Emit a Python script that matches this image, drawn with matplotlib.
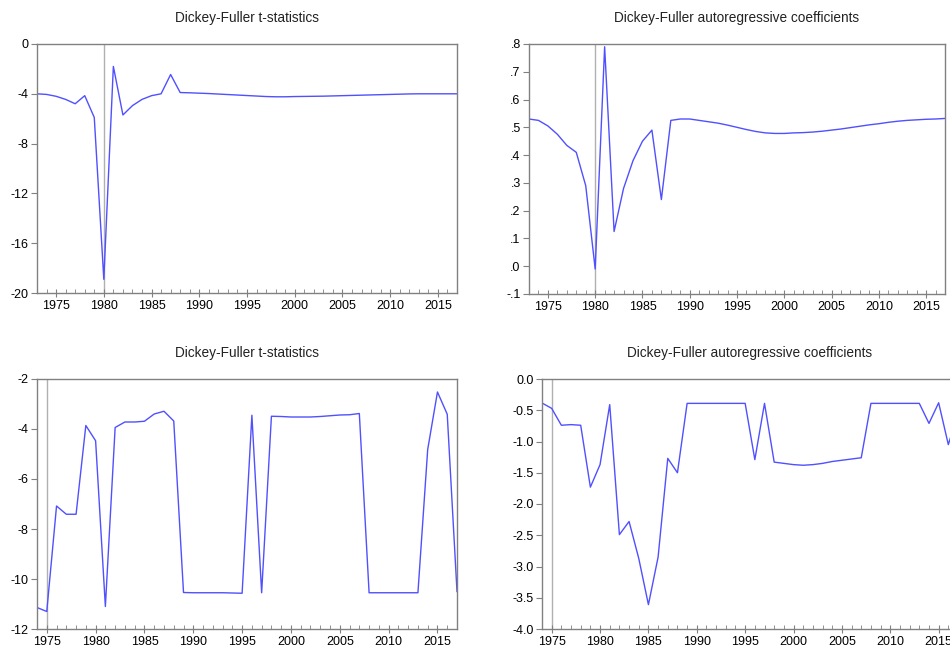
import numpy as np
import matplotlib
matplotlib.use('Agg')
import matplotlib.pyplot as plt
from matplotlib.ticker import MultipleLocator, FuncFormatter

plt.rcParams['font.family'] = ['Liberation Sans', 'DejaVu Sans']

# top row: 1973-2017
years_top = list(range(1973, 2018))
tstat_top = [-4.0, -4.05, -4.2, -4.45, -4.8, -4.15, -5.9, -18.9, -1.8, -5.7,
             -4.95, -4.45, -4.15, -4.0, -2.45, -3.9, -3.92, -3.95, -3.98, -4.02,
             -4.06, -4.1, -4.14, -4.18, -4.22, -4.24, -4.24, -4.22, -4.21, -4.2,
             -4.19, -4.17, -4.15, -4.13, -4.11, -4.09, -4.07, -4.05, -4.03, -4.01,
             -4.0, -4.0, -4.0, -4.0, -4.0]
coef_top = [0.53, 0.525, 0.505, 0.475, 0.435, 0.41, 0.29, -0.01, 0.79, 0.125,
            0.28, 0.38, 0.45, 0.49, 0.24, 0.525, 0.53, 0.53, 0.525, 0.52,
            0.515, 0.508, 0.5, 0.492, 0.485, 0.48, 0.478, 0.478, 0.48, 0.481,
            0.483, 0.486, 0.49, 0.494, 0.499, 0.504, 0.509, 0.513, 0.518, 0.522,
            0.525, 0.527, 0.529, 0.53, 0.532]

# bottom row: 1974-2017
years_bot = list(range(1974, 2018))
tstat_bot = [-11.14, -11.3, -7.08, -7.41, -7.41, -3.86, -4.47, -11.1, -3.94, -3.72,
             -3.72, -3.69, -3.4, -3.29, -3.68, -10.54, -10.55, -10.55, -10.55, -10.55,
             -10.56, -10.57, -3.45, -10.55, -3.49, -3.5, -3.52, -3.52, -3.52, -3.5,
             -3.47, -3.44, -3.43, -3.38, -10.55, -10.55, -10.55, -10.55, -10.55, -10.55,
             -4.82, -2.52, -3.41, -10.5]
coef_bot = [-0.384, -0.47, -0.74, -0.73, -0.74, -1.73, -1.37, -0.41, -2.49, -2.28,
            -2.87, -3.61, -2.85, -1.27, -1.5, -0.39, -0.39, -0.39, -0.39, -0.39,
            -0.39, -0.39, -1.29, -0.39, -1.33, -1.35, -1.37, -1.38, -1.37, -1.35,
            -1.32, -1.3, -1.28, -1.26, -0.39, -0.39, -0.39, -0.39, -0.39, -0.39,
            -0.71, -0.38, -1.05, -0.55]

title_t = 'Dickey-Fuller t-statistics'
title_c = 'Dickey-Fuller autoregressive coefficients'

line_col = '#5050ff'
frame_col = '#808080'

fig = plt.figure(figsize=(9.5, 6.49), dpi=100)
W, H = 950.0, 649.0

def make_ax(l, r, t, b):
    return fig.add_axes([l / W, (H - b) / H, (r - l) / W, (b - t) / H])

ax1 = make_ax(37, 457, 44, 293)
ax2 = make_ax(529, 945, 44, 294)
ax3 = make_ax(37, 457, 379, 629)
ax4 = make_ax(542, 958, 379, 629)

def style(ax, x, y, xmin, vline, ylim, ystep, fmt, title):
    ax.axvline(vline, color='#b0b0b0', lw=1.0, zorder=1)
    ax.plot(x, y, color=line_col, lw=1.0, zorder=2)
    ax.set_xlim(xmin, 2017)
    ax.set_ylim(*ylim)
    ax.xaxis.set_major_locator(MultipleLocator(5))
    ax.xaxis.set_minor_locator(MultipleLocator(1))
    ax.yaxis.set_major_locator(MultipleLocator(ystep))
    ax.yaxis.set_major_formatter(FuncFormatter(fmt))
    for s in ax.spines.values():
        s.set_color(frame_col)
        s.set_linewidth(1.0)
    ax.tick_params(axis='x', which='major', direction='inout', length=6,
                   color=frame_col, labelsize=9, pad=2)
    ax.tick_params(axis='x', which='minor', direction='in', length=3,
                   color=frame_col)
    ax.tick_params(axis='y', which='major', direction='out', length=4,
                   color=frame_col, labelsize=9, pad=2)
    ax.set_title(title, fontsize=9.8, pad=16, color='#222222')

def int_fmt(v, pos):
    return '%d' % round(v)

def dot_fmt(v, pos):
    s = '%.1f' % v
    if s == '-0.0':
        s = '0.0'
    return s.replace('0.', '.')

def one_fmt(v, pos):
    s = '%.1f' % v
    if s == '-0.0':
        s = '0.0'
    return s

style(ax1, years_top, tstat_top, 1973, 1980, (-20, 0), 4, int_fmt, title_t)
style(ax2, years_top, coef_top, 1973, 1980, (-0.1, 0.8), 0.1, dot_fmt, title_c)
style(ax3, years_bot, tstat_bot, 1974, 1975, (-12, -2), 2, int_fmt, title_t)
style(ax4, years_bot, coef_bot, 1974, 1975, (-4.0, 0.0), 0.5, one_fmt, title_c)

fig.savefig('out.png', dpi=100)
